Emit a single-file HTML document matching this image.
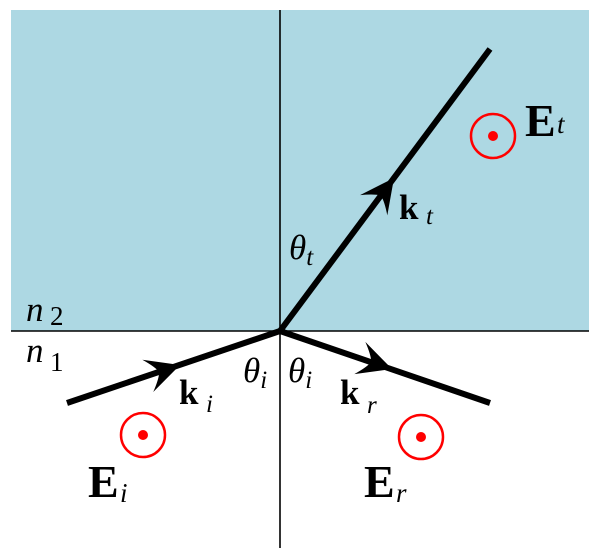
<!DOCTYPE html>
<html><head><style>body{margin:0;background:#fff}svg{display:block}</style></head><body>
<svg width="600" height="558" viewBox="0 0 600 558" xmlns="http://www.w3.org/2000/svg" font-family="'Liberation Serif', serif">
<rect x="11" y="10" width="578" height="321" fill="#add8e3"/>
<line x1="11" y1="331" x2="589" y2="331" stroke="#000" stroke-width="1.6"/>
<line x1="280" y1="10" x2="280" y2="548" stroke="#000" stroke-width="1.6"/>
<g stroke="#000" stroke-width="6" fill="none">
<line x1="67" y1="403" x2="280" y2="331"/>
<line x1="280" y1="331" x2="490" y2="403"/>
<line x1="280" y1="331" x2="490" y2="49"/>
</g>
<g fill="#000">
<path d="M0,0 L-34,-17 Q-24,-6 -22,0 Q-24,6 -34,17 Z" transform="translate(180,365) rotate(-18.7)"/>
<path d="M0,0 L-34,-17 Q-24,-6 -22,0 Q-24,6 -34,17 Z" transform="translate(394,178) rotate(-53.3)"/>
<path d="M0,0 L-34,-17 Q-24,-6 -22,0 Q-24,6 -34,17 Z" transform="translate(392,369) rotate(18.9)"/>
</g>
<g stroke="#f00" stroke-width="2.5" fill="none">
<circle cx="143" cy="435" r="22"/><circle cx="493" cy="136" r="22"/><circle cx="421" cy="437" r="22"/>
</g>
<g fill="#f00"><circle cx="143" cy="435" r="5"/><circle cx="493" cy="136" r="5"/><circle cx="421" cy="437" r="5"/></g>
<g style="font-size:35px">
<text x="26" y="321" font-style="italic">n</text><text x="50" y="325" style="font-size:27px">2</text>
<text x="26" y="362" font-style="italic">n</text><text x="50" y="371" style="font-size:27px">1</text>
<text x="243" y="382" font-style="italic">θ<tspan style="font-size:25px" dy="6">i</tspan></text>
<text x="288" y="382" font-style="italic">θ<tspan style="font-size:25px" dy="6">i</tspan></text>
<text x="289" y="259" font-style="italic">θ<tspan style="font-size:25px" dy="6">t</tspan></text>
<text x="179" y="404" font-weight="bold">k</text><text x="206" y="412" style="font-size:25px" font-style="italic">i</text>
<text x="399" y="219" font-weight="bold">k</text><text x="426" y="224" style="font-size:25px" font-style="italic">t</text>
<text x="340" y="404" font-weight="bold">k</text><text x="367" y="413" style="font-size:25px" font-style="italic">r</text>
</g>
<g style="font-size:46px" font-weight="bold">
<text x="525" y="136">E</text><text x="88" y="497">E</text><text x="364" y="497">E</text>
</g>
<g style="font-size:27px" font-style="italic">
<text x="557" y="133">t</text><text x="120" y="502">i</text><text x="396" y="502">r</text>
</g>
</svg>
</body></html>
